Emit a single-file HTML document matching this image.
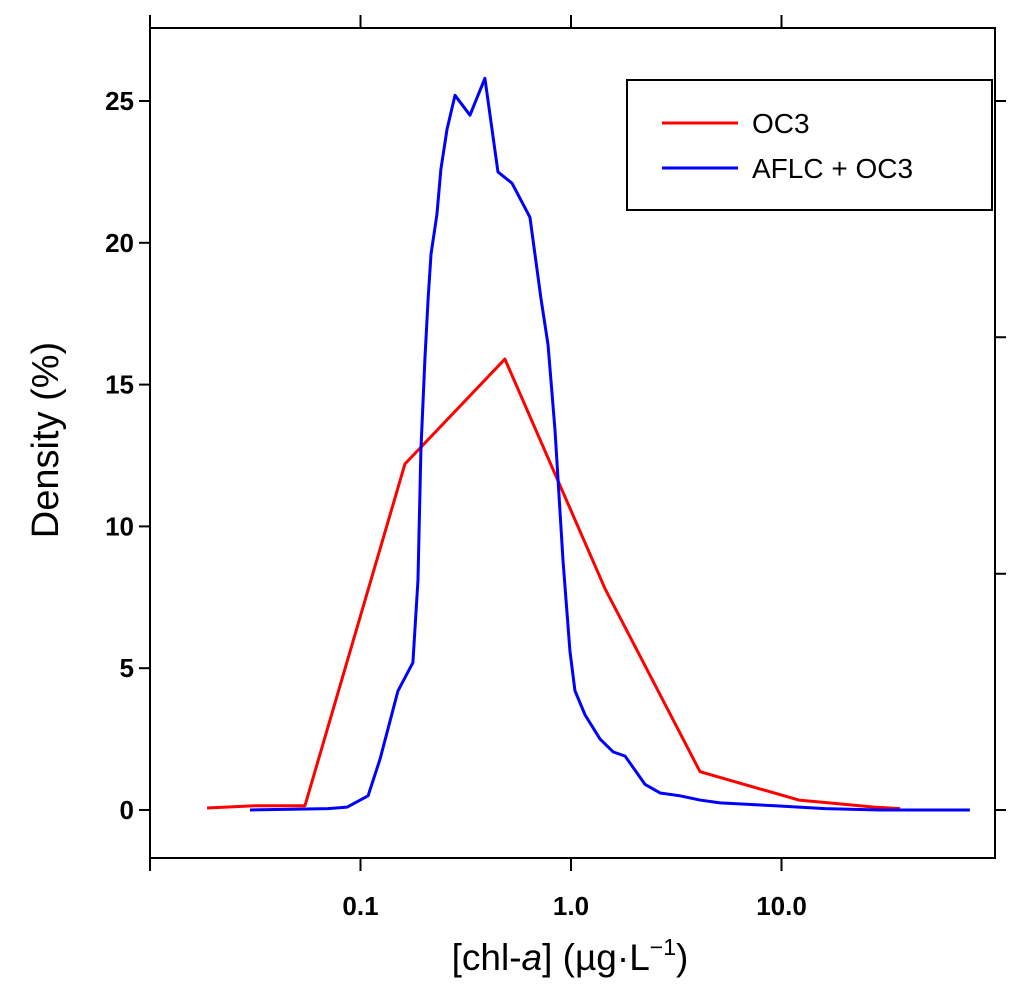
<!DOCTYPE html>
<html><head><meta charset="utf-8"><style>
body{margin:0;background:#fff;}
svg text{font-family:"Liberation Sans",sans-serif;}
</style></head><body>
<svg id="chart" width="1024" height="995" viewBox="0 0 1024 995" xmlns="http://www.w3.org/2000/svg">
<g id="axes"></g>
<g id="series"></g>
<g>
<rect x="627" y="80" width="365" height="130" fill="#fff" stroke="#000" stroke-width="2"/>
<line x1="662" y1="123" x2="738" y2="123" stroke="#ff0000" stroke-width="3"/>
<text x="752" y="133" font-size="28">OC3</text>
<line x1="662" y1="168" x2="738" y2="168" stroke="#0000ff" stroke-width="3"/>
<text x="752" y="178" font-size="28">AFLC + OC3</text>
</g>
<text transform="translate(58,440) rotate(-90)" text-anchor="middle" font-size="38">Density (%)</text>
<text x="570" y="970" text-anchor="middle" font-size="37">[chl-<tspan font-style="italic">a</tspan>] (µg·L<tspan font-size="23" dy="-15">−1</tspan><tspan dy="15">)</tspan></text>
</svg>
<script>
const yTicks=[0,5,10,15,20,25];
const yRightTicks=[0,8.33,16.67,25];
const xTickLogs=[-1,0,1];
const xTickLabels=["0.1","1.0","10.0"];
const oc3Log=[-1.729,-1.496,-1.264,-0.789,-0.314,0.162,0.613,1.083,1.226,1.44,1.563];
const oc3Val=[0.07,0.15,0.15,12.2,15.9,7.8,1.35,0.35,0.25,0.1,0.05];
const aflcLog=[-1.525,-1.154,-1.064,-0.964,-0.907,-0.822,-0.751,-0.727,-0.713,-0.694,-0.679,-0.665,-0.637,-0.618,-0.589,-0.551,-0.480,-0.409,-0.347,-0.280,-0.195,-0.143,-0.109,-0.076,-0.038,-0.005,0.019,0.067,0.138,0.200,0.257,0.352,0.423,0.518,0.613,0.708,0.969,1.207,1.468,1.895];
const aflcVal=[0,0.05,0.1,0.5,1.8,4.2,5.2,8.1,12.7,15.9,18,19.6,21,22.6,24,25.2,24.5,25.8,22.5,22.1,20.9,18.05,16.4,13.4,8.8,5.6,4.2,3.35,2.5,2.05,1.9,0.9,0.6,0.5,0.35,0.25,0.15,0.05,0,0];
const L=150,R=995,T=28,B=858;
const xs=l=>571+210.5*l;
const ys=v=>810-28.36*v;
const NS="http://www.w3.org/2000/svg";
const ax=document.getElementById('axes');
function mk(tag,attrs,parent){const e=document.createElementNS(NS,tag);for(const k in attrs)e.setAttribute(k,attrs[k]);parent.appendChild(e);return e;}
const frame=mk('rect',{x:L,y:T,width:R-L,height:B-T,fill:'none',stroke:'#000','stroke-width':2},ax);


yTicks.forEach(v=>{
 const t=mk('line',{x1:L-11,x2:L,y1:ys(v),y2:ys(v),stroke:'#000','stroke-width':2},ax);
 
 
 const tx=mk('text',{x:L-16,y:ys(v)+9,'text-anchor':'end','font-size':26,'font-weight':'bold'},ax);
 
 
 tx.textContent=v;
});
yRightTicks.forEach(v=>{
 const t=mk('line',{x1:R,x2:R+11,y1:ys(v),y2:ys(v),stroke:'#000','stroke-width':2},ax);
 
 
});
[L].concat(xTickLogs.map(xs)).forEach(x=>{
 const t1=mk('line',{x1:x,x2:x,y1:T,y2:T-13,stroke:'#000','stroke-width':2},ax);
 
 
 const t2=mk('line',{x1:x,x2:x,y1:B,y2:B+13,stroke:'#000','stroke-width':2},ax);
 
 
});
xTickLogs.forEach((l,i)=>{
 const tx=mk('text',{x:xs(l),y:915,'text-anchor':'middle','font-size':26,'font-weight':'bold'},ax);
 
 
 tx.textContent=xTickLabels[i];
});
const sg=document.getElementById('series');
function line(lx,vals,color,name){
 const p=mk('polyline',{points:lx.map((l,i)=>xs(l)+','+ys(vals[i])).join(' '),fill:'none',stroke:color,'stroke-width':3,'stroke-linejoin':'round'},sg);
 
 
}
line(oc3Log,oc3Val,'#ff0000','oc3-line');
line(aflcLog,aflcVal,'#0000ff','aflc-oc3-line');
</script>
</body></html>
